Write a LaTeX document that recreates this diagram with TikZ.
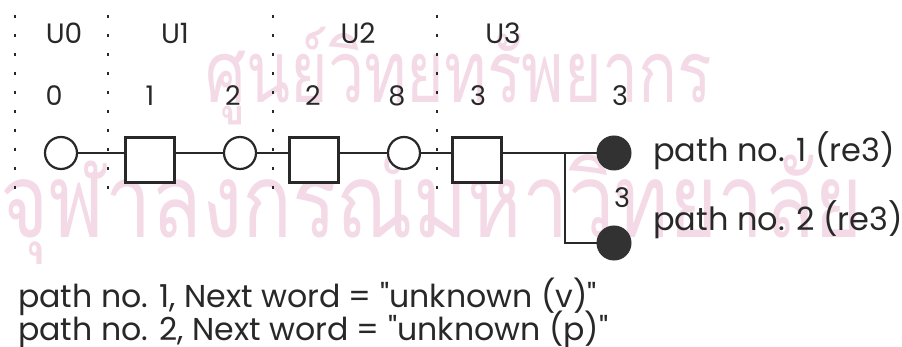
\documentclass[tikz,border=0pt]{standalone}
\usepackage{fontspec}
\setmainfont{Poppins}[Ligatures=TeXOff]
\newfontfamily\thaifont[Script=Thai]{Loma}
\definecolor{wmark}{RGB}{243,218,230}
\definecolor{ink}{RGB}{40,40,40}
\definecolor{fillink}{RGB}{50,50,50}
\begin{document}
\begin{tikzpicture}[x=1pt,y=-1pt,
  wm/.style={text=wmark,inner sep=0,anchor=base west,font=\thaifont\fontsize{86}{90}\selectfont},
  sep/.style={draw=ink,line width=1.3pt,dash pattern=on 3pt off 16pt},
  lbl/.style={text=ink,inner sep=0,font=\fontsize{28}{32}\selectfont},
  num/.style={text=ink,inner sep=0,font=\fontsize{27}{30}\selectfont},
  txt/.style={text=ink,inner sep=0,anchor=west,font=\fontsize{32}{36}\selectfont},
  btxt/.style={text=ink,inner sep=0,anchor=west,font=\fontsize{31.6}{34}\selectfont},
  opn/.style={circle,draw=ink,line width=2.2pt,minimum size=32pt,inner sep=0,fill=white},
  sq/.style={rectangle,draw=ink,line width=2.2pt,minimum width=49pt,minimum height=45pt,inner sep=0,fill=white},
  full/.style={circle,draw=fillink,fill=fillink,line width=1pt,minimum size=34pt,inner sep=0},
  wire/.style={draw=ink,line width=2pt}]
\useasboundingbox (0,0) rectangle (902,347);
% watermark
\node[wm] (wm1) at (205,103) {\scalebox{0.75}[1]{ศูนย์วิทยทรัพยากร}};
\node[wm] (wm2) at (0,238) {\scalebox{0.96}[1.2]{จุฬาลงกรณ์มหาวิทยาลัย}};
% separators
\coordinate (s0t) at (15,15); \coordinate (s0b) at (15,200);
\coordinate (s1t) at (108,15); \coordinate (s1b) at (108,200);
\coordinate (s2t) at (273,15); \coordinate (s2b) at (273,200);
\coordinate (s3t) at (437,15); \coordinate (s3b) at (437,200);
\draw[sep] (s0t) -- (s0b);
\draw[sep] (s1t) -- (s1b);
\draw[sep] (s2t) -- (s2b);
\draw[sep] (s3t) -- (s3b);
% unit labels
\node[lbl] (u0) at (64,33) {U0};
\node[lbl] (u1) at (175,33) {U1};
\node[lbl] (u2) at (358,33) {U2};
\node[lbl] (u3) at (503,33) {U3};
% numbers
\node[num] (n0) at (54,96) {0};
\node[num] (n1) at (150,96) {1};
\node[num] (n2) at (233,96) {2};
\node[num] (n3) at (313,96) {2};
\node[num] (n4) at (397,96) {8};
\node[num] (n5) at (478,96) {3};
\node[num] (n6) at (620,96) {3};
\node[num] (n7) at (622,198) {3};
% chain
\coordinate (j) at (565,153);
\coordinate (jb) at (565,243);
\node[opn] (c0) at (61,153) {};
\node[sq] (b1) at (150,160) {};
\node[opn] (c1) at (240,153) {};
\node[sq] (b2) at (314,160) {};
\node[opn] (c2) at (404,153) {};
\node[sq] (b3) at (477,160) {};
\node[full] (f1) at (614,153) {};
\node[full] (f2) at (614,243) {};
\draw[wire] (c0.east) -- (b1.west |- c0.east);
\draw[wire] (b1.east |- c1.west) -- (c1.west);
\draw[wire] (c1.east) -- (b2.west |- c1.east);
\draw[wire] (b2.east |- c2.west) -- (c2.west);
\draw[wire] (c2.east) -- (b3.west |- c2.east);
\draw[wire] (b3.east |- j) -- (f1.west);
\draw[wire] (j) -- (jb) -- (f2.west);
% texts
\node[txt] (p1) at (653,151) {path no. 1 (re3)};
\node[txt] (p2) at (653,220) {path no. 2 (re3)};
\node[btxt] (l1) at (18,297) {path no. 1, Next word = "unknown (v)"};
\node[btxt] (l2) at (18,330) {path no. 2, Next word = "unknown (p)"};
\end{tikzpicture}
\end{document}
